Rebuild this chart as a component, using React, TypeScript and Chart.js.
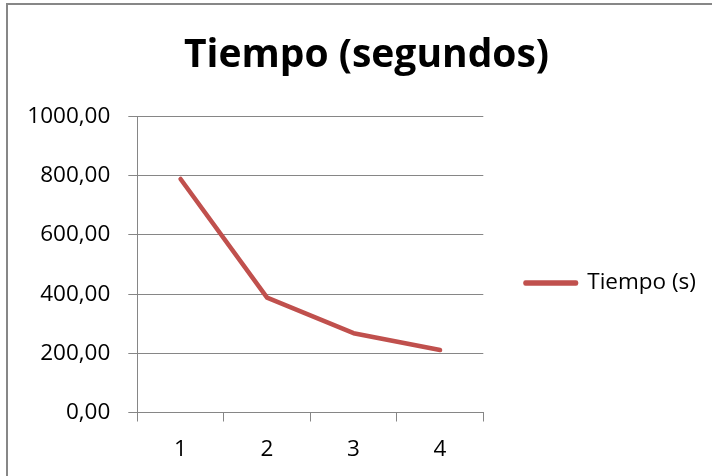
import React, { useEffect, useRef } from "react";
import { Chart, registerables } from "chart.js";

Chart.register(...registerables);

// Chart content
const chartTitle = "Tiempo (segundos)";
const seriesLabel = "Tiempo (s)";
const categories = ["1", "2", "3", "4"];
const tiempoSegundos = [789, 388, 268, 211];
const yTickValues = [0, 200, 400, 600, 800, 1000];

const FONT = '"Open Sans", sans-serif';
const LINE_RED = "#C0504D";
const GRID_GREY = "#868686";

const PAD_LEFT = 24;
const PAD_RIGHT = 3;
const PAD_BOTTOM = 3;
const PLOT_LEFT = 137.3;
const X_AXIS_HEIGHT = 60.5;
const LEGEND_WIDTH = 225.7;

const formatTick = (v: number) => v.toFixed(2).replace(".", ",");

// Outer frame around the whole chart, running off the right and bottom edges
const framePlugin = {
  id: "outerFrame",
  afterDraw(chart: Chart) {
    const ctx = chart.ctx;
    ctx.save();
    ctx.strokeStyle = "#878787";
    ctx.lineWidth = 2;
    ctx.strokeRect(7, 4, chart.width + 20, chart.height + 20);
    ctx.restore();
  },
};

// The layout caps side boxes at a fraction of the width; give the legend
// column a fixed width so the plot area ends where the legend gap starts.
const legendWidthPlugin = {
  id: "legendWidth",
  beforeLayout(chart: any) {
    const legend = chart.legend;
    if (!legend || legend.__fixedWidth) return;
    const fit = legend.fit.bind(legend);
    legend.fit = function () {
      fit();
      this.width = LEGEND_WIDTH;
    };
    legend.__fixedWidth = true;
  },
};

export default function App() {
  const canvasRef = useRef<HTMLCanvasElement | null>(null);

  useEffect(() => {
    const canvas = canvasRef.current;
    if (!canvas) return;
    const chart = new Chart(canvas, {
      type: "line",
      data: {
        labels: categories,
        datasets: [
          {
            label: seriesLabel,
            data: tiempoSegundos,
            borderColor: LINE_RED,
            backgroundColor: LINE_RED,
            borderWidth: 4.5,
            borderCapStyle: "round",
            borderJoinStyle: "round",
            pointRadius: 0,
            pointHoverRadius: 0,
            tension: 0,
            fill: false,
          },
        ],
      },
      options: {
        responsive: false,
        animation: false,
        events: [],
        layout: { padding: { left: PAD_LEFT, right: PAD_RIGHT, top: 0, bottom: PAD_BOTTOM } },
        plugins: {
          tooltip: { enabled: false },
          title: {
            display: true,
            text: chartTitle,
            color: "#000",
            font: { family: FONT, size: 39, weight: "bold", lineHeight: 1.2 },
            padding: { top: 32.5, bottom: 37.2 },
          },
          legend: {
            position: "right",
            align: "center",
            title: {
              display: true,
              text: "",
              font: { size: 10, lineHeight: 1 },
              padding: { top: 83, bottom: 0 },
            },
            labels: {
              color: "#000",
              font: { family: FONT, size: 22.5 },
              boxWidth: 50.5,
              boxHeight: 1,
              padding: 42.2,
            },
          },
        },
        scales: {
          x: {
            type: "category",
            offset: true,
            afterFit(scale: any) {
              scale.height = X_AXIS_HEIGHT;
            },
            grid: {
              display: true,
              drawOnChartArea: false,
              drawTicks: true,
              tickLength: 9,
              color: GRID_GREY,
              offset: true,
            },
            border: { display: true, color: GRID_GREY, width: 1 },
            ticks: {
              color: "#000",
              font: { family: FONT, size: 22.5, lineHeight: 1.2 },
              padding: 15,
              maxRotation: 0,
            },
          },
          y: {
            min: yTickValues[0],
            max: yTickValues[yTickValues.length - 1],
            afterFit(scale: any) {
              scale.width = PLOT_LEFT - PAD_LEFT;
            },
            afterBuildTicks(scale: any) {
              scale.ticks = yTickValues.map((v) => ({ value: v }));
            },
            grid: {
              color: GRID_GREY,
              lineWidth: 1,
              tickLength: 9,
              drawTicks: true,
            },
            border: { display: true, color: GRID_GREY, width: 1 },
            ticks: {
              color: "#000",
              font: { family: FONT, size: 22.5, lineHeight: 1.2 },
              padding: 18,
              callback: (v: any) => formatTick(Number(v)),
            },
          },
        },
      },
      plugins: [framePlugin, legendWidthPlugin],
    });
    return () => chart.destroy();
  }, []);

  return (
    <div style={{ position: "absolute", left: 0, top: 0, width: 712, height: 476, background: "#fff" }}>
      <canvas ref={canvasRef} width={712} height={476} style={{ display: "block" }} />
    </div>
  );
}
